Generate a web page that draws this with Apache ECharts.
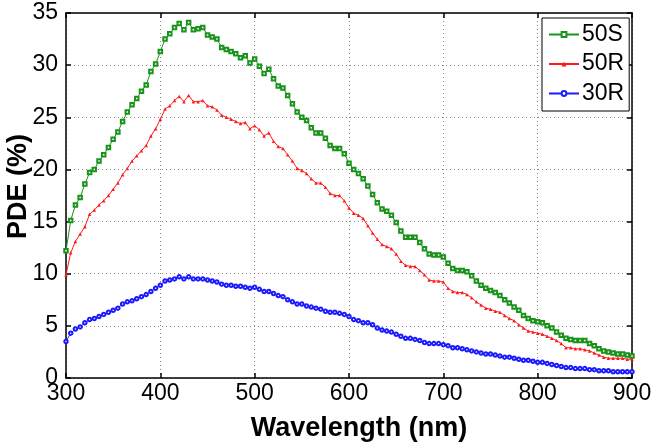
<!DOCTYPE html>
<html>
<head>
<meta charset="utf-8">
<script src="https://cdn.jsdelivr.net/npm/echarts@6/dist/echarts.min.js"></script>
<style>html,body{margin:0;padding:0;background:#fff}#c{width:654px;height:445px}</style>
</head>
<body>
<div id="c"></div>
<script>
const wavelengths = [300,305,310,315,320,325,330,335,340,345,350,355,360,365,370,375,380,385,390,395,
400,405,410,415,420,425,430,435,440,445,450,455,460,465,470,475,480,485,490,495,
500,505,510,515,520,525,530,535,540,545,550,555,560,565,570,575,580,585,590,595,
600,605,610,615,620,625,630,635,640,645,650,655,660,665,670,675,680,685,690,695,
700,705,710,715,720,725,730,735,740,745,750,755,760,765,770,775,780,785,790,795,
800,805,810,815,820,825,830,835,840,845,850,855,860,865,870,875,880,885,890,895,900];

const pde50S = [12.2,15.1,16.6,17.3,18.6,19.7,20.0,20.8,21.4,22.1,22.9,23.6,24.6,25.5,26.2,26.8,27.5,28.1,29.4,30.1,
31.3,32.5,33.0,33.6,34.0,33.4,34.1,33.4,33.5,33.6,32.9,32.7,32.5,31.7,31.5,31.3,31.1,30.7,30.9,30.2,
30.6,29.9,29.2,29.6,28.7,28.0,27.8,27.1,26.3,25.5,25.0,24.7,24.0,23.5,23.5,23.0,22.3,22.0,22.0,21.5,
20.6,20.0,19.6,19.1,18.4,17.6,16.8,16.2,16.0,15.6,14.9,14.1,13.5,13.5,13.5,13.0,12.4,11.9,11.8,11.8,
11.6,11.0,10.5,10.3,10.3,10.2,9.8,9.3,8.9,8.6,8.4,8.2,7.9,7.5,7.2,6.8,6.5,6.0,5.7,5.5,
5.4,5.3,5.0,4.8,4.4,4.1,3.8,3.7,3.6,3.6,3.6,3.3,3.1,2.8,2.6,2.5,2.4,2.3,2.3,2.2,2.1];

const pde50R = [9.9,12.0,13.1,13.8,14.5,15.7,16.1,16.6,17.0,17.5,18.1,18.7,19.5,20.1,20.8,21.3,21.8,22.3,23.2,23.9,
24.8,25.8,26.1,26.6,27.0,26.5,27.1,26.5,26.5,26.6,26.1,26.0,25.7,25.2,25.0,24.8,24.6,24.4,24.5,23.9,
24.2,23.8,23.2,23.5,22.7,22.2,22.0,21.4,20.8,20.1,19.9,19.6,19.1,18.7,18.7,18.3,17.7,17.5,17.5,17.0,
16.3,15.8,15.6,15.3,14.6,13.9,13.3,12.8,12.6,12.4,11.9,11.2,10.8,10.7,10.7,10.3,9.9,9.4,9.3,9.3,
9.2,8.6,8.3,8.2,8.2,8.0,7.7,7.3,7.0,6.7,6.6,6.4,6.3,6.0,5.7,5.5,5.1,4.8,4.5,4.4,
4.3,4.2,4.0,3.8,3.6,3.3,2.9,2.9,2.8,2.8,2.7,2.6,2.4,2.2,2.0,1.9,1.9,1.9,1.9,1.8,1.8];

const pde30R = [3.5,4.3,4.7,4.9,5.3,5.6,5.7,5.9,6.1,6.3,6.5,6.7,7.1,7.3,7.4,7.6,7.8,8.0,8.3,8.6,
8.9,9.3,9.4,9.5,9.7,9.5,9.7,9.5,9.5,9.5,9.4,9.3,9.2,9.0,8.9,8.9,8.8,8.8,8.7,8.6,
8.7,8.5,8.3,8.3,8.1,7.9,7.8,7.5,7.3,7.1,7.1,6.9,6.8,6.7,6.6,6.4,6.3,6.3,6.2,6.1,
5.9,5.6,5.5,5.3,5.3,5.1,4.8,4.6,4.5,4.4,4.2,4.0,3.8,3.8,3.7,3.6,3.4,3.3,3.3,3.3,
3.2,3.1,2.9,2.9,2.8,2.7,2.6,2.5,2.4,2.3,2.3,2.2,2.1,2.0,2.0,1.9,1.8,1.7,1.7,1.6,
1.5,1.5,1.4,1.3,1.2,1.1,1.0,1.0,0.9,0.9,0.9,0.8,0.8,0.7,0.7,0.7,0.6,0.6,0.6,0.6,0.6];

const seriesNames = ['50S','50R','30R'];
const xTicks = [300,400,500,600,700,800,900];
const yTicks = [0,5,10,15,20,25,30,35];

const FONT = '"Liberation Sans", Arial, sans-serif';
function pairs(arr){ return wavelengths.map((w,i)=>[w,arr[i]]); }

const gridLine = {show:true, lineStyle:{color:'#8a8a8a', type:[1,3], width:1}};
const axisLine = {show:true, onZero:false, lineStyle:{color:'#000', width:1.5}};
const tick = {show:true, inside:true, length:5, lineStyle:{color:'#000', width:1.5}};

const chart = echarts.init(document.getElementById('c'), null, {renderer:'canvas'});
chart.setOption({
  animation:false,
  backgroundColor:'#fff',
  grid:{left:66, right:22, top:13, bottom:67, containLabel:false, outerBoundsMode:'none'},
  xAxis:[{
    type:'value', min:xTicks[0], max:xTicks[xTicks.length-1], interval:100,
    name:'Wavelength (nm)', nameLocation:'middle', nameGap:37,
    nameTextStyle:{fontFamily:FONT, fontWeight:'bold', fontSize:27, color:'#000', padding:[0,0,0,20]},
    axisLine:axisLine, axisTick:tick, splitLine:gridLine,
    axisLabel:{fontFamily:FONT, fontSize:23, color:'#000', margin:4}
  },{
    type:'value', position:'top', min:xTicks[0], max:xTicks[xTicks.length-1], interval:100,
    axisLine:axisLine, axisTick:tick, splitLine:{show:false}, axisLabel:{show:false}
  }],
  yAxis:[{
    type:'value', min:yTicks[0], max:yTicks[yTicks.length-1], interval:5,
    name:'PDE (%)', nameLocation:'middle', nameGap:34, nameMoveOverlap:false,
    nameTextStyle:{fontFamily:FONT, fontWeight:'bold', fontSize:27, color:'#000', padding:[0,0,0,18]},
    axisLine:axisLine, axisTick:tick, splitLine:gridLine,
    axisLabel:{fontFamily:FONT, fontSize:23, color:'#000', margin:8}
  },{
    type:'value', position:'right', min:yTicks[0], max:yTicks[yTicks.length-1], interval:5,
    axisLine:axisLine, axisTick:tick, splitLine:{show:false}, axisLabel:{show:false}
  }],
  legend:{
    left:542, top:18, orient:'vertical',
    data:seriesNames,
    backgroundColor:'#fff', borderColor:'#000', borderWidth:1, borderRadius:0,
    padding:[5,5,6,6], itemGap:6.5, itemWidth:30, itemHeight:6,
    textStyle:{fontFamily:FONT, fontSize:23, color:'#000', padding:[0,0,0,-2]}
  },
  series:[
    {name:seriesNames[0], type:'line', data:pairs(pde50S), symbol:'emptyRect', symbolSize:3.5,
     showAllSymbol:true, lineStyle:{color:'#1a931a', width:1}, itemStyle:{color:'#1a931a', borderWidth:1}},
    {name:seriesNames[1], type:'line', data:pairs(pde50R), symbol:'triangle', symbolSize:3.5,
     showAllSymbol:true, lineStyle:{color:'#ff1a1a', width:1}, itemStyle:{color:'#ff1a1a'}},
    {name:seriesNames[2], type:'line', data:pairs(pde30R), symbol:'emptyCircle', symbolSize:3.5,
     showAllSymbol:true, lineStyle:{color:'#1a1aff', width:1}, itemStyle:{color:'#1a1aff', borderWidth:1}}
  ]
});
</script>
</body>
</html>
